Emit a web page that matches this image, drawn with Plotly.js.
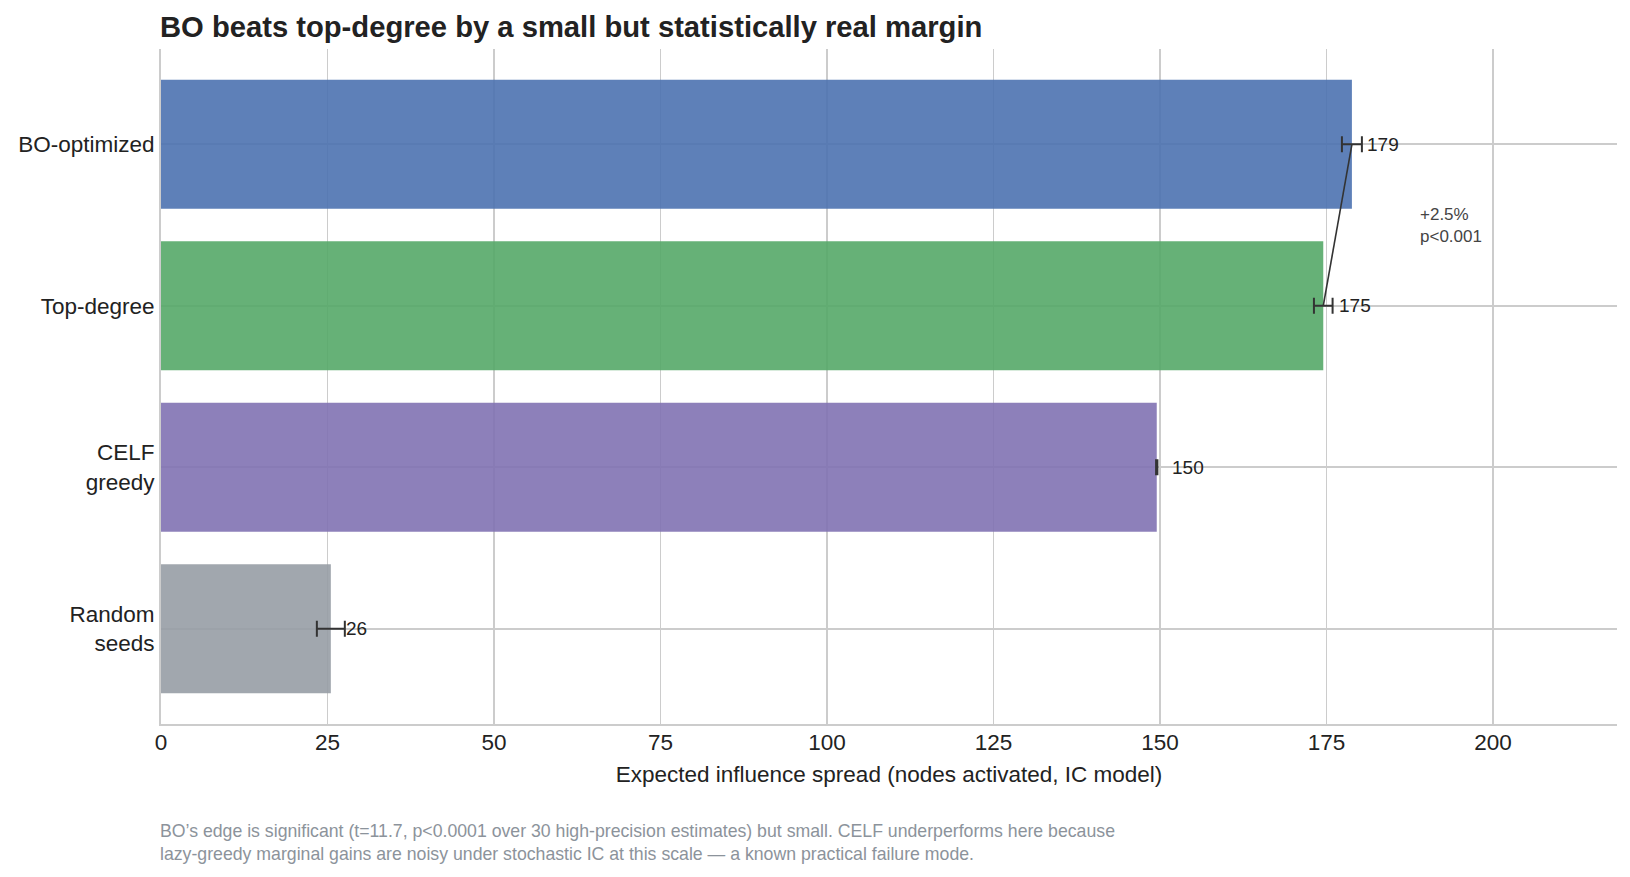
<!DOCTYPE html>
<html>
<head>
<meta charset="utf-8">
<script src="https://cdn.plot.ly/plotly-3.0.1.min.js"></script>
<style>
  html, body { margin: 0; padding: 0; background: #ffffff; }
  #chart { width: 1630px; height: 877px; }
</style>
</head>
<body>
<div id="chart"></div>
<script>
// Seed-selection strategies and their expected influence spread (IC model)
const methods = ["BO-optimized", "Top-degree", "CELF<br>greedy", "Random<br>seeds"];
const spread = [178.8, 174.5, 149.5, 25.5];
const ciHalf = [1.5, 1.4, 0.1, 2.1];
const barColors = ["#4C72B0", "#55A868", "#8172B3", "#979DA5"];
const xTicks = [0, 25, 50, 75, 100, 125, 150, 175, 200];

const FONT = "Liberation Sans, Arial, sans-serif";
const INK = "#222222";

const bars = {
  type: "bar",
  orientation: "h",
  x: spread,
  y: methods,
  width: 0.8,
  marker: { color: barColors, opacity: 0.9, line: { width: 0 } },
  error_x: { type: "data", array: ciHalf, visible: true, color: "#333333", thickness: 2, width: 8 },
  hoverinfo: "x+y",
  showlegend: false
};

// Connector between the two leading strategies
const link = {
  type: "scatter",
  mode: "lines",
  x: [spread[0], spread[1]],
  y: [methods[0], methods[1]],
  line: { color: "#333333", width: 1.6 },
  hoverinfo: "skip",
  showlegend: false
};

const valueLabels = spread.map((v, i) => ({
  x: v + 2,
  y: methods[i],
  xref: "x",
  yref: "y",
  text: String(Math.round(v)),
  showarrow: false,
  xanchor: "left",
  yanchor: "middle",
  xshift: 0,
  font: { family: FONT, size: 19, color: INK }
}));

const gainPct = ((spread[0] / spread[1]) - 1) * 100;

const annotations = valueLabels.concat([
  {
    x: 188.7, y: 0.5, xref: "x", yref: "y",
    text: "+" + gainPct.toFixed(1) + "%<br>p&lt;0.001",
    showarrow: false, xanchor: "left", yanchor: "middle", align: "left",
    font: { family: FONT, size: 17, color: "#444444" }
  },
  {
    x: 0, y: -0.176, xref: "paper", yref: "paper", xshift: -3,
    text: "BO’s edge is significant (t=11.7, p&lt;0.0001 over 30 high-precision estimates) but small. CELF underperforms here because<br>lazy-greedy marginal gains are noisy under stochastic IC at this scale — a known practical failure mode.",
    showarrow: false, xanchor: "left", yanchor: "middle", align: "left",
    font: { family: FONT, size: 17.7, color: "#8C939B" }
  }
]);

const layout = {
  width: 1630,
  height: 877,
  paper_bgcolor: "#ffffff",
  plot_bgcolor: "#ffffff",
  margin: { l: 161, r: 13, t: 49, b: 153, pad: 0 },
  font: { family: FONT, color: INK },
  title: {
    text: "<b>BO beats top-degree by a small but statistically real margin</b>",
    x: 160 / 1630, xref: "container", xanchor: "left",
    y: 1 - 27 / 877, yref: "container", yanchor: "middle",
    font: { family: FONT, size: 29.2, color: INK }
  },
  xaxis: {
    range: [0, 218.6],
    tickvals: xTicks,
    ticktext: xTicks.map(String),
    showgrid: true, gridcolor: "#cccccc", gridwidth: 1.6,
    zeroline: false,
    showline: true, linecolor: "#cccccc", linewidth: 2,
    ticks: "", ticklabelstandoff: -3,
    tickfont: { family: FONT, size: 22.5, color: INK },
    title: { text: "Expected influence spread (nodes activated, IC model)", standoff: 12,
             font: { family: FONT, size: 22.5, color: INK } }
  },
  yaxis: {
    type: "category",
    categoryorder: "array",
    categoryarray: methods,
    range: [3.59, -0.59],
    showgrid: true, gridcolor: "#cccccc", gridwidth: 1.6,
    zeroline: false,
    showline: true, linecolor: "#cccccc", linewidth: 2,
    ticks: "", ticklabelstandoff: 0,
    tickfont: { family: FONT, size: 22.5, color: INK }
  },
  annotations: annotations,
  bargap: 0.2
};

Plotly.newPlot("chart", [bars, link], layout, { displayModeBar: false, staticPlot: true });
</script>
</body>
</html>
